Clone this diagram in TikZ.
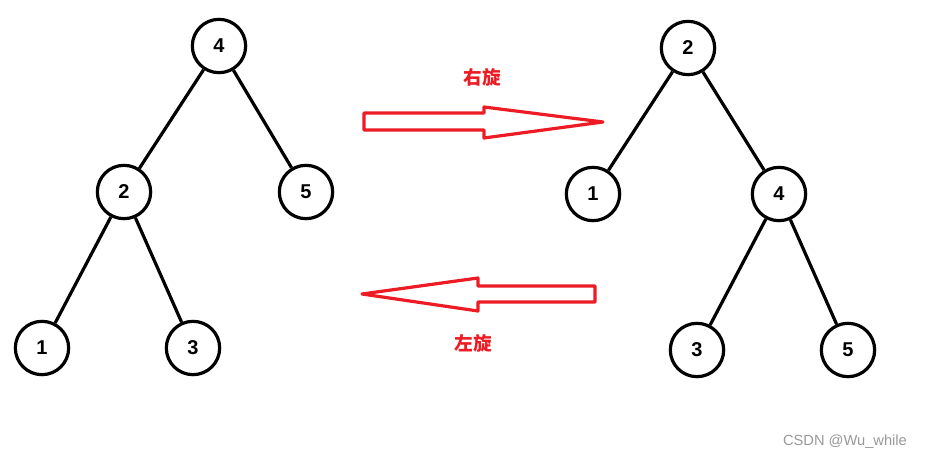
\documentclass[tikz,border=0pt]{standalone}
\usepackage{fontspec}
\setmainfont{Liberation Sans}
\newfontfamily\cjk{Noto Sans CJK SC}
\definecolor{pred}{HTML}{ED1C24}
\begin{document}
\begin{tikzpicture}[x=0.75pt,y=-0.75pt,
  tn/.style={circle,draw=black,line width=2.4pt,minimum size=40pt,inner sep=0pt,font=\bfseries\fontsize{15}{15}\selectfont,fill=white},
  ed/.style={line width=2.4pt},
  ar/.style={draw=pred,line width=2.4pt,line join=round},
  lb/.style={text=pred,font=\cjk\bfseries\fontsize{14}{14}\selectfont}]
\path[use as bounding box,fill=white] (0,0) rectangle (940,464);
% left tree
\node[tn] (a4) at (219,46) {4};
\node[tn] (a2) at (124,192) {2};
\node[tn] (a5) at (306,192) {5};
\node[tn] (a1) at (42,348) {1};
\node[tn] (a3) at (193,348) {3};
\draw[ed] (a4)--(a2); \draw[ed] (a4)--(a5);
\draw[ed] (a2)--(a1); \draw[ed] (a2)--(a3);
% right tree
\node[tn] (b2) at (688,48) {2};
\node[tn] (b1) at (593,194) {1};
\node[tn] (b4) at (779,194) {4};
\node[tn] (b3) at (697,350) {3};
\node[tn] (b5) at (848,350) {5};
\draw[ed] (b2)--(b1); \draw[ed] (b2)--(b4);
\draw[ed] (b4)--(b3); \draw[ed] (b4)--(b5);
% arrows
\draw[ar] (364,113)--(484,113)--(484,107)--(603,122)--(484,138)--(484,130)--(364,130)--cycle;
\draw[ar] (595,286)--(478,286)--(478,278)--(362,294)--(478,311)--(478,302)--(595,302)--cycle;
\node[lb] (t1) at (482,77) {右旋};
\node[lb] (t2) at (473,343) {左旋};
\node[text=gray!80,font=\fontsize{11}{11}\selectfont] (wm) at (845,442) {CSDN @Wu\_while};
\end{tikzpicture}
\end{document}
